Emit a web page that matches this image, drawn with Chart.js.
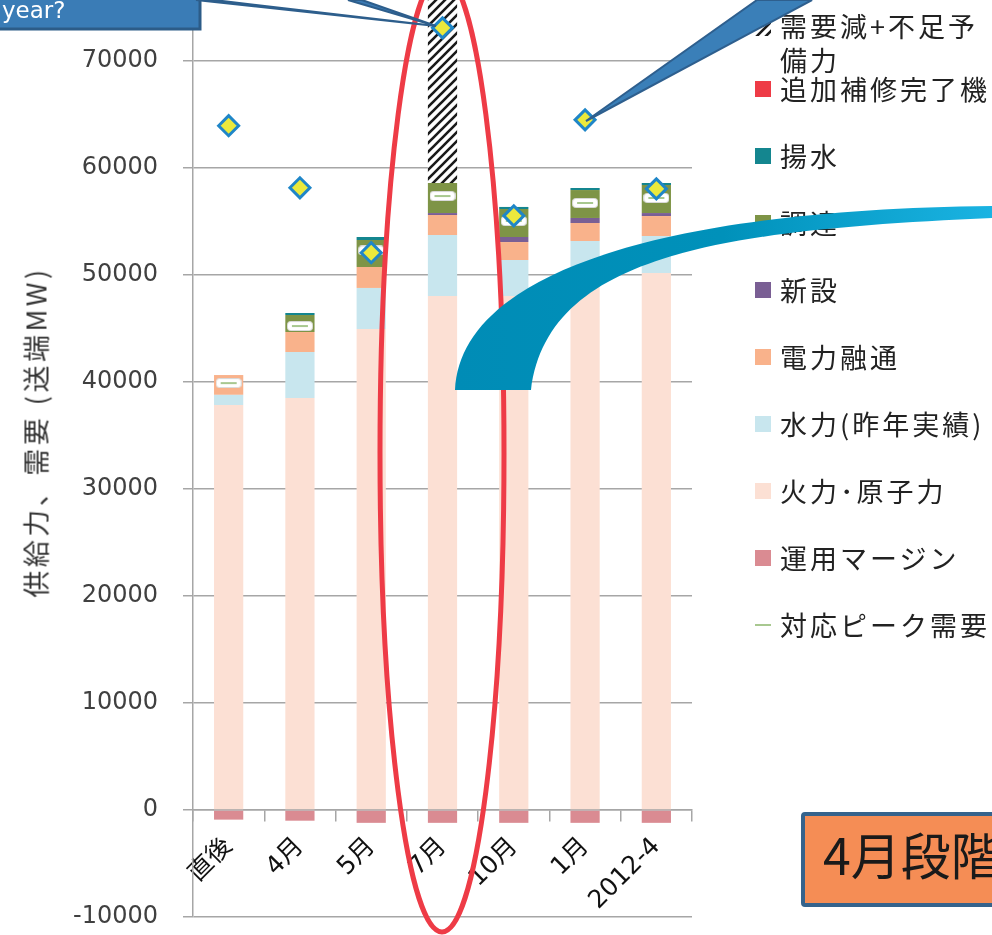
<!DOCTYPE html>
<html><head><meta charset="utf-8">
<script src="https://cdn.jsdelivr.net/npm/chart.js@4.4.1/dist/chart.umd.min.js"></script>
<style>
html,body{margin:0;padding:0;width:992px;height:935px;overflow:hidden;background:#fff;}
#wrap{position:relative;width:992px;height:935px;overflow:hidden;}
#c{position:absolute;left:0;top:-86px;}
.lg{position:absolute;left:780px;font-family:"Noto Sans CJK JP","Noto Sans CJK SC",sans-serif;font-size:27px;letter-spacing:3px;color:#222;white-space:nowrap;line-height:34px;}
.mk{position:absolute;left:755px;width:16px;height:16px;}
#ytitle{position:absolute;left:35px;top:432px;transform:translate(-50%,-50%) rotate(-90deg);font-family:"Noto Sans CJK JP",sans-serif;font-size:27px;letter-spacing:3.5px;color:#333;white-space:nowrap;}
#ov{position:absolute;left:0;top:0;}
#obox{position:absolute;left:801px;top:812px;width:260px;height:87px;background:#f58d55;border:4px solid #35638c;border-radius:4px;}
#otext{position:absolute;left:823px;top:818px;font-family:"Noto Sans CJK JP",sans-serif;font-size:50px;line-height:70px;color:#1a1a1a;white-space:nowrap;}
#ytext{position:absolute;left:2px;top:-6px;font-family:"DejaVu Sans",sans-serif;font-size:23px;line-height:32px;color:#fff;}
</style></head>
<body><div id="wrap">
<canvas id="c" width="992" height="1043"></canvas>
<div id="ytitle">供給力、需要 (送端MW)</div>
<canvas class="mk" id="hatchMk" width="16" height="16" style="top:20px"></canvas>
<div class="lg" style="top:9px">需要減+不足予<br>備力</div>
<div class="mk" style="top:81px;background:#ee3b46"></div><div class="lg" style="top:72px">追加補修完了機</div>
<div class="mk" style="top:148px;background:#14868f"></div><div class="lg" style="top:139px">揚水</div>
<div class="mk" style="top:215px;background:#7e9446"></div><div class="lg" style="top:206px">調達</div>
<div class="mk" style="top:282px;background:#7a5f94"></div><div class="lg" style="top:273px">新設</div>
<div class="mk" style="top:349px;background:#f9b28b"></div><div class="lg" style="top:340px">電力融通</div>
<div class="mk" style="top:416px;background:#c8e6ee"></div><div class="lg" style="top:407px">水力(昨年実績)</div>
<div class="mk" style="top:483px;background:#fce0d4"></div><div class="lg" style="top:474px">火力･原子力</div>
<div class="mk" style="top:550px;background:#da8b92"></div><div class="lg" style="top:541px">運用マージン</div>
<div class="mk" style="top:624px;height:2px;background:#a8c890"></div><div class="lg" style="top:608px">対応ピーク需要</div>
<svg id="ov" width="992" height="935">
<defs><linearGradient id="ag" x1="455" y1="0" x2="992" y2="0" gradientUnits="userSpaceOnUse">
<stop offset="0" stop-color="#008cb6"/><stop offset="0.5" stop-color="#0091ba"/><stop offset="1" stop-color="#1ab3e2"/></linearGradient></defs>
<ellipse cx="442" cy="453" rx="62" ry="479" fill="none" stroke="#ee3b46" stroke-width="5"/>
<path d="M 455 390 C 460 280, 640 210, 992 206 L 992 218 C 720 230, 548 255, 531 390 Z" fill="url(#ag)"/>
<rect x="-5" y="-20" width="205" height="49" fill="#3a7cb6" stroke="#2c5c88" stroke-width="3"/>
<polygon points="196,0 214,0 436,26" fill="#3a7ab4" stroke="#2d5e8c" stroke-width="2"/>
<polygon points="348,0 362,0 436,26" fill="#3a7ab4" stroke="#2d5e8c" stroke-width="2"/>
<polygon points="757,0 812,0 586,121" fill="#3a7fb8" stroke="#2e5f8e" stroke-width="2"/>
</svg>
<div id="ytext">year?</div>
<div id="obox"></div>
<div id="otext">4月段階</div>
</div>
<script>
const categories = ['直後','4月','5月','7月','10月','1月','2012-4'];
const operatingMargin = [-900,-1000,-1200,-1200,-1200,-1200,-1200];
const thermalNuclear = [37850,38500,44950,48040,48040,49800,50190];
const hydroLastYear = [950,4300,3840,5700,3360,3380,3450];
const interchange = [1850,1870,1960,1870,1680,1680,1870];
const newUnits = [0,0,0,180,470,470,280];
const procurement = [0,1590,2520,2810,2620,2610,2620];
const pumpedStorage = [0,190,280,0,190,190,190];
const repairedUnits = [0,0,0,0,0,0,0];
const demandCutShortfall = [0,0,0,17400,0,0,0];
const peakDemand = [39900,45230,52300,57380,55050,56730,57200];
const demandPoints = [63950,58150,52080,73100,55530,64500,58050];
const yTicks = [-10000,0,10000,20000,30000,40000,50000,60000,70000,80000];

// hatch pattern tile
const tile = document.createElement('canvas');
tile.width = 9; tile.height = 9;
(function(){const t=tile.getContext('2d');t.fillStyle='#fff';t.fillRect(0,0,9,9);t.strokeStyle='#1a1a1a';t.lineWidth=2.6;
 t.beginPath();t.moveTo(-2,11);t.lineTo(11,-2);t.moveTo(-2,2);t.lineTo(2,-2);t.moveTo(7,11);t.lineTo(11,7);t.stroke();})();
const ctx = document.getElementById('c').getContext('2d');
const hatch = ctx.createPattern(tile,'repeat');
(function(){const m=document.getElementById('hatchMk').getContext('2d');m.fillStyle=m.createPattern(tile,'repeat');m.fillRect(0,0,16,16);})();

// peak marker image
const pk = document.createElement('canvas');
pk.width = 26; pk.height = 10;
(function(){const p=pk.getContext('2d');p.fillStyle='#fff';p.strokeStyle='#d8d8d8';p.lineWidth=1;
 p.beginPath();p.roundRect(0.5,0.5,25,9,3);p.fill();p.stroke();
 p.strokeStyle='#a8c890';p.lineWidth=2;p.beginPath();p.moveTo(5,5);p.lineTo(21,5);p.stroke();})();

function bar(label, data, color){
  return {type:'bar', label, data, backgroundColor:color, borderWidth:0, stack:'supply',
    barPercentage:0.41, categoryPercentage:1, order:10};
}
new Chart(ctx, {
  data:{labels:categories, datasets:[
    {type:'line', label:'需要', data:demandPoints, showLine:false, stack:'demand', order:0,
      pointStyle:'rectRot', pointRadius:10, pointBorderWidth:3, pointBackgroundColor:'#ebe93c', pointBorderColor:'#1f86c8'},
    {type:'line', label:'対応ピーク需要', data:peakDemand, showLine:false, stack:'peak', order:1,
      pointStyle:pk, pointRadius:8},
    bar('運用マージン', operatingMargin, '#da8b92'),
    bar('火力･原子力', thermalNuclear, '#fce0d4'),
    bar('水力(昨年実績)', hydroLastYear, '#c8e6ee'),
    bar('電力融通', interchange, '#f9b28b'),
    bar('新設', newUnits, '#7a5f94'),
    bar('調達', procurement, '#7e9446'),
    bar('揚水', pumpedStorage, '#14868f'),
    bar('追加補修完了機', repairedUnits, '#ee3b46'),
    bar('需要減+不足予備力', demandCutShortfall, hatch)
  ]},
  options:{
    responsive:false, animation:false, devicePixelRatio:1,
    layout:{padding:{left:0,right:300,top:40,bottom:40}},
    plugins:{legend:{display:false}, tooltip:{enabled:false}},
    scales:{
      x:{type:'category', stacked:true, position:{y:0}, offset:true,
        grid:{offset:true, drawOnChartArea:false, drawTicks:true, tickLength:11, color:'#a6a6a6', lineWidth:1.5},
        border:{display:true, color:'#a6a6a6', width:1.5},
        ticks:{font:{family:'"DejaVu Sans","Noto Sans CJK JP"', size:25}, color:'#111', maxRotation:45, minRotation:45, padding:11, autoSkip:false}},
      y:{type:'linear', stacked:true, min:-10000, max:80000,
        afterFit(s){s.width=193;},
        afterBuildTicks(s){s.ticks=yTicks.map(v=>({value:v}));},
        ticks:{font:{family:'"DejaVu Sans"', size:24}, color:'#404040', padding:25, callback:v=>String(v)},
        grid:{color:'#a6a6a6', lineWidth:1.5, tickLength:10, tickColor:'#a6a6a6'},
        border:{color:'#a6a6a6', width:1.5}}
    }
  }
});
</script>
</body></html>
